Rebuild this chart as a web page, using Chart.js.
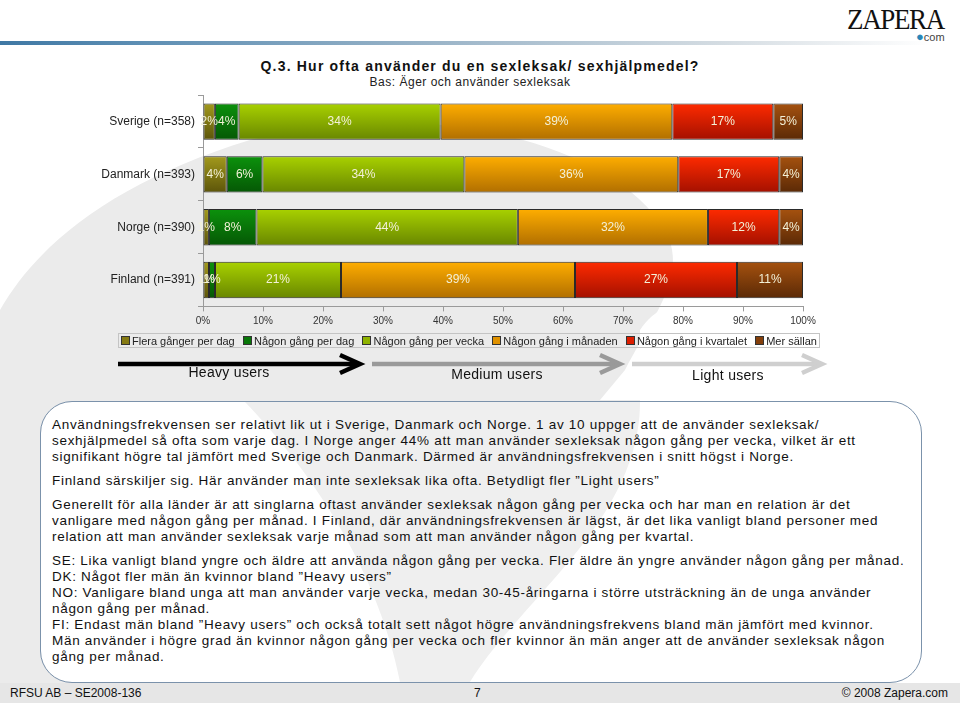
<!DOCTYPE html>
<html>
<head>
<meta charset="utf-8">
<script src="https://cdn.jsdelivr.net/npm/chart.js@4"></script>
<style>
  html,body{margin:0;padding:0;}
  body{width:960px;height:703px;position:relative;overflow:hidden;background:#fff;font-family:"Liberation Sans",Arial,sans-serif;color:#111;}
  .abs{position:absolute;}
  #bg{position:absolute;left:0;top:0;}
  #logo{left:847px;top:2px;font-family:"Liberation Serif","DejaVu Serif",serif;font-size:30px;letter-spacing:-1.5px;color:#111;transform:scaleX(0.9);transform-origin:left top;}
  #logocom{left:916px;top:29px;font-size:11px;color:#444;}
  #hline{left:0;top:41px;width:960px;height:4px;background:linear-gradient(to right,#3f78a4 0%,#5e8fb4 15%,#9ab4c8 45%,#d4dce2 75%,#ffffff 97%);}
  #title{left:0;width:960px;top:58px;text-align:center;font-weight:bold;font-size:14px;letter-spacing:1.2px;}
  #subtitle{left:0;width:940px;top:75px;text-align:center;font-size:12px;letter-spacing:0.5px;color:#222;}
  #chartwrap{left:0;top:85px;width:960px;height:250px;}
  #legend{left:118px;top:333px;width:702px;height:15px;border:1px solid #c4c4c4;display:flex;justify-content:space-between;align-items:center;padding:0 2px;box-sizing:border-box;font-size:11px;color:#222;white-space:nowrap;}
  #legend .it{display:flex;align-items:center;}
  #legend .sw{width:7px;height:7px;border:1px solid #333;margin-right:2px;}
  .arrlab{font-size:14px;letter-spacing:0.3px;color:#111;text-align:center;}
  #box{left:40px;top:401px;width:882px;height:282px;border:1.5px solid #7b92ab;border-radius:32px;box-sizing:border-box;}
  #text{left:52px;top:417px;font-size:13.5px;letter-spacing:0.7px;line-height:16px;color:#111;}
  #text div{white-space:nowrap;height:16px;}
  #text .gap{height:8px;}
  #footer{left:0;top:683px;width:960px;height:20px;background:#e6e6e6;font-size:12px;color:#111;}
  #footer span{position:absolute;top:3px;}
</style>
</head>
<body>
<svg id="bg" width="960" height="703">
  <path d="M0,310 C40,240 120,180 250,140 C420,95 610,140 665,230 C690,275 650,320 625,370 L600,400 L0,400 Z" fill="#ebebeb"/>
  <rect x="0" y="400" width="960" height="283" fill="#ebebeb"/>
  <path d="M640,330 C660,300 700,280 960,250 L960,703 L640,703 Z" fill="#ffffff"/>
  <rect x="41" y="402" width="880" height="280" rx="31" fill="#ffffff"/>
  <path d="M245,402 L640,402 C640,520 520,600 470,682 L400,682 C380,580 320,480 245,402 Z" fill="#efefef"/>
</svg>

<div id="logo" class="abs">ZAPERA</div>
<div id="logocom" class="abs"><span style="color:#2a86b8;font-size:13px;">&#9679;</span>com</div>
<div id="hline" class="abs"></div>
<div id="title" class="abs">Q.3. Hur ofta använder du en sexleksak/ sexhjälpmedel?</div>
<div id="subtitle" class="abs">Bas: Äger och använder sexleksak</div>

<div id="chartwrap" class="abs"><canvas id="c"></canvas></div>
<div id="legend" class="abs"></div>

<svg class="abs" style="left:0;top:350px;" width="960" height="30">
  <line x1="118" y1="14" x2="358" y2="14" stroke="#000" stroke-width="4.5"/>
  <polyline points="340,5 360,14 340,23" fill="none" stroke="#000" stroke-width="4.5" stroke-linejoin="miter"/>
  <line x1="372" y1="14" x2="618" y2="14" stroke="#9a9a9a" stroke-width="4.5"/>
  <polyline points="600,5 620,14 600,23" fill="none" stroke="#9a9a9a" stroke-width="4.5"/>
  <line x1="632" y1="14" x2="820" y2="14" stroke="#cfcfcf" stroke-width="4.5"/>
  <polyline points="802,5 822,14 802,23" fill="none" stroke="#cfcfcf" stroke-width="4.5"/>
</svg>
<div class="abs arrlab" style="left:129px;width:200px;top:364px;">Heavy users</div>
<div class="abs arrlab" style="left:397px;width:200px;top:366px;">Medium users</div>
<div class="abs arrlab" style="left:628px;width:200px;top:367px;">Light users</div>

<div id="box" class="abs"></div>
<div id="text" class="abs">
  <div>Användningsfrekvensen ser relativt lik ut i Sverige, Danmark och Norge. 1 av 10 uppger att de använder sexleksak/</div>
  <div>sexhjälpmedel så ofta som varje dag. I Norge anger 44% att man använder sexleksak någon gång per vecka, vilket är ett</div>
  <div>signifikant högre tal jämfört med Sverige och Danmark. Därmed är användningsfrekvensen i snitt högst i Norge.</div>
  <div class="gap"></div>
  <div>Finland särskiljer sig. Här använder man inte sexleksak lika ofta. Betydligt fler ”Light users”</div>
  <div class="gap"></div>
  <div>Generellt för alla länder är att singlarna oftast använder sexleksak någon gång per vecka och har man en relation är det</div>
  <div>vanligare med någon gång per månad. I Finland, där användningsfrekvensen är lägst, är det lika vanligt bland personer med</div>
  <div>relation att man använder sexleksak varje månad som att man använder någon gång per kvartal.</div>
  <div class="gap"></div>
  <div>SE: Lika vanligt bland yngre och äldre att använda någon gång per vecka. Fler äldre än yngre använder någon gång per månad.</div>
  <div>DK: Något fler män än kvinnor bland ”Heavy users”</div>
  <div>NO: Vanligare bland unga att man använder varje vecka, medan 30-45-åringarna i större utsträckning än de unga använder</div>
  <div>någon gång per månad.</div>
  <div>FI: Endast män bland ”Heavy users” och också totalt sett något högre användningsfrekvens bland män jämfört med kvinnor.</div>
  <div>Män använder i högre grad än kvinnor någon gång per vecka och fler kvinnor än män anger att de använder sexleksak någon</div>
  <div>gång per månad.</div>
</div>

<div id="footer" class="abs">
  <span style="left:10px;">RFSU AB – SE2008-136</span>
  <span style="left:474px;">7</span>
  <span style="right:12px;">© 2008 Zapera.com</span>
</div>

<script>
const categories = ["Sverige (n=358)", "Danmark (n=393)", "Norge (n=390)", "Finland (n=391)"];
const seriesNames = ["Flera gånger per dag", "Någon gång per dag", "Någon gång per vecka", "Någon gång i månaden", "Någon gång i kvartalet", "Mer sällan"];
const floraGangerPerDag   = [2, 4, 1, 1];
const nagonGangPerDag     = [4, 6, 8, 1];
const nagonGangPerVecka   = [34, 34, 44, 21];
const nagonGangIManaden   = [39, 36, 32, 39];
const nagonGangIKvartalet = [17, 17, 12, 27];
const merSallan           = [5, 4, 4, 11];
const xTicks = [0, 10, 20, 30, 40, 50, 60, 70, 80, 90, 100];

const seriesValues = [floraGangerPerDag, nagonGangPerDag, nagonGangPerVecka, nagonGangIManaden, nagonGangIKvartalet, merSallan];
const colorsTop = ["#a39a1c", "#0c920c", "#a9d200", "#ffae00", "#ff2b00", "#a6520f"];
const colorsBot = ["#5c540a", "#055705", "#688600", "#b06e00", "#a31000", "#5a2906"];
const colorsMid = ["#857a12", "#087708", "#8fb300", "#e09200", "#dd1e00", "#843f0b"];

const leg = document.getElementById('legend');
seriesNames.forEach((n, i) => {
  const it = document.createElement('div'); it.className = 'it';
  const sw = document.createElement('div'); sw.className = 'sw';
  sw.style.background = colorsMid[i];
  it.appendChild(sw);
  const t = document.createElement('span'); t.textContent = n;
  it.appendChild(t);
  leg.appendChild(it);
});

const totals = categories.map((_, ci) => seriesValues.reduce((s, arr) => s + arr[ci], 0));

const BAR_T = 37;
const datasets = seriesNames.map((name, si) => ({
  label: name,
  data: seriesValues[si].map((v, ci) => v / totals[ci] * 100),
  raw: seriesValues[si],
  borderColor: '#2a2a2a',
  borderWidth: 1,
  borderSkipped: false,
  backgroundColor: (ctx) => {
    const chart = ctx.chart;
    if (!chart.chartArea || ctx.dataIndex === undefined || !chart.scales.y) return colorsMid[si];
    const yc = chart.scales.y.getPixelForValue(ctx.dataIndex);
    const g = chart.ctx.createLinearGradient(0, yc - BAR_T / 2, 0, yc + BAR_T / 2);
    g.addColorStop(0, colorsTop[si]);
    g.addColorStop(1, colorsBot[si]);
    return g;
  }
}));

const labelPlugin = {
  id: 'segLabels',
  afterDatasetsDraw(chart) {
    const c = chart.ctx;
    c.save();
    c.font = '12px "Liberation Sans", Arial, sans-serif';
    c.fillStyle = '#f3f1d8';
    c.textAlign = 'center';
    c.textBaseline = 'middle';
    chart.data.datasets.forEach((ds, di) => {
      const meta = chart.getDatasetMeta(di);
      meta.data.forEach((el, i) => {
        const x = (el.x + el.base) / 2;
        c.fillText(ds.raw[i] + '%', x, el.y);
      });
    });
    c.restore();
  }
};

new Chart(document.getElementById('c'), {
  type: 'bar',
  data: { labels: categories, datasets },
  options: {
    indexAxis: 'y',
    responsive: true,
    maintainAspectRatio: false,
    animation: false,
    layout: { padding: { top: 6.6, right: 157, left: 0, bottom: 0 } },
    plugins: { legend: { display: false }, tooltip: { enabled: false } },
    datasets: { bar: { categoryPercentage: 1, barPercentage: 0.69 } },
    scales: {
      x: {
        stacked: true, min: 0, max: 100,
        afterBuildTicks: (s) => { s.ticks = xTicks.map(v => ({ value: v })); },
        afterFit: (s) => { s.height = 28.6; },
        ticks: { callback: v => v + '%', font: { size: 10, family: '"Liberation Sans", Arial' }, color: '#333', padding: 4, maxRotation: 0 },
        grid: { drawOnChartArea: false, tickLength: 5, color: '#9a9a9a' },
        border: { display: true, color: '#9a9a9a' }
      },
      y: {
        stacked: true,
        afterFit: (s) => { s.width = 203; },
        ticks: { font: { size: 12, family: '"Liberation Sans", Arial' }, color: '#222', padding: 3, autoSkip: false },
        grid: { drawOnChartArea: false, tickLength: 5, color: '#9a9a9a', offset: true },
        border: { display: true, color: '#9a9a9a' }
      }
    }
  },
  plugins: [labelPlugin]
});
</script>
</body>
</html>
